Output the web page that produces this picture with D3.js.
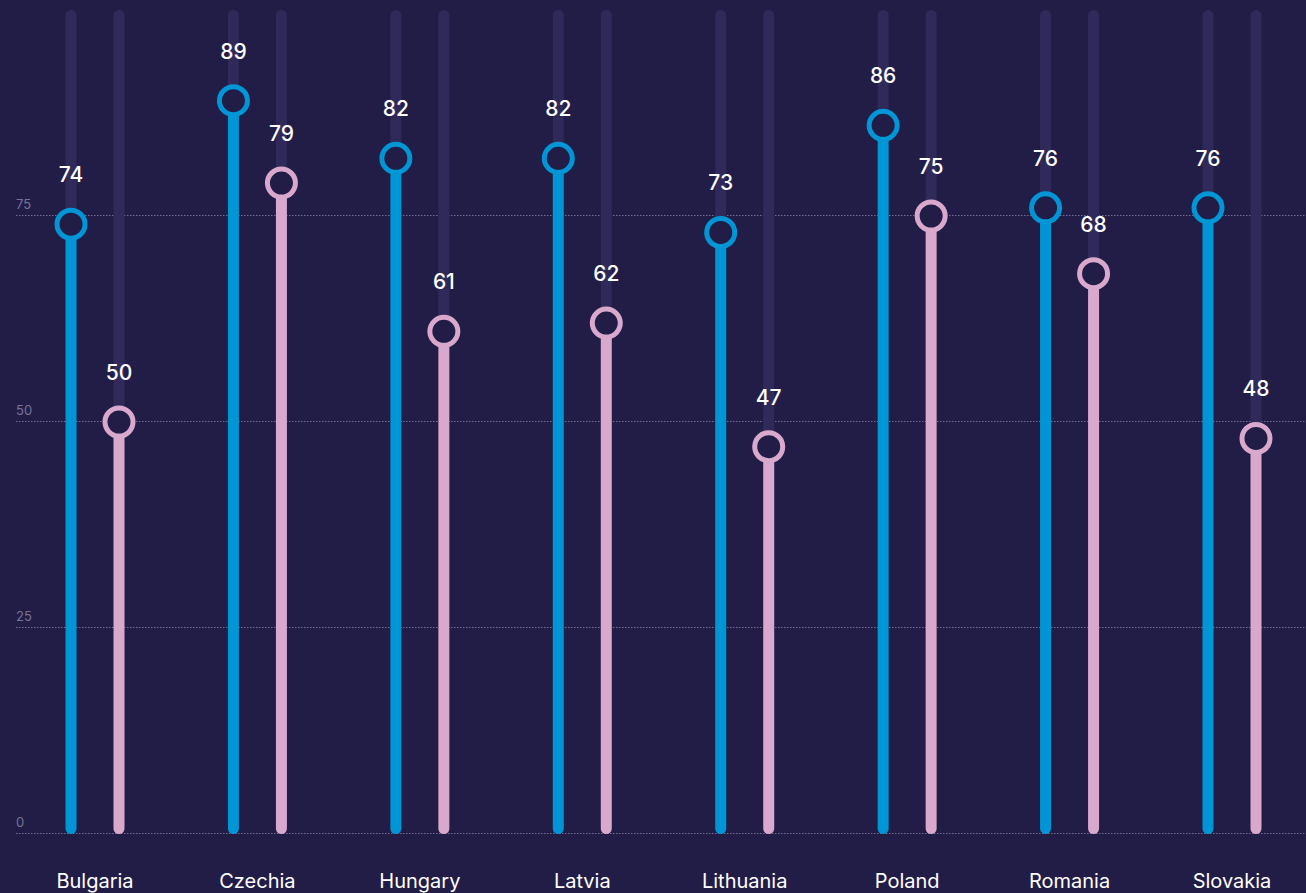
<!DOCTYPE html>
<html>
<head>
<meta charset="utf-8">
<script src="https://cdn.jsdelivr.net/npm/d3@7"></script>
<style>
  html, body { margin: 0; padding: 0; background: #221d46; }
  svg { display: block; font-family: Inter, "Noto Sans", sans-serif; }
</style>
</head>
<body>
<svg id="chart" width="1306" height="893"></svg>
<script>
const countries = ["Bulgaria", "Czechia", "Hungary", "Latvia", "Lithuania", "Poland", "Romania", "Slovakia"];
const seriesA = [74, 89, 82, 82, 73, 86, 76, 76];
const seriesB = [50, 79, 61, 62, 47, 75, 68, 48];
const yTicks = [0, 25, 50, 75];

const colors = { bg: "#221d46", track: "#302a5a", a: "#0096d6", b: "#d8a8cd", grid: "#8d89ab", tick: "#77739a" };

const svg = d3.select("#chart");
const W = 1306, H = 893;

svg.append("rect").attr("width", W).attr("height", H).attr("fill", colors.bg);

const y = d3.scaleLinear().domain([0, 100]).range([834, 10]);
const x = d3.scalePoint().domain(countries).range([95, 1232]);
const off = 24;
const barW = 11;

// gridlines with tick labels
const grid = svg.append("g");
yTicks.forEach(t => {
  grid.append("line")
    .attr("x1", 16).attr("x2", W)
    .attr("y1", y(t) - 0.5).attr("y2", y(t) - 0.5)
    .attr("stroke", colors.grid).attr("stroke-width", 1)
    .attr("stroke-dasharray", "1.5,1.5").attr("opacity", 0.75);
  grid.append("text")
    .attr("x", 16).attr("y", y(t) - 7)
    .attr("fill", colors.tick).attr("font-size", 13)
    .text(t);
});

const pairs = countries.map((c, i) => ({ c, a: seriesA[i], b: seriesB[i] }));

function drawSeries(key, dx, color) {
  const g = svg.append("g");
  // background track
  g.selectAll("line.track").data(pairs).join("line")
    .attr("class", "track")
    .attr("x1", d => x(d.c) + dx).attr("x2", d => x(d.c) + dx)
    .attr("y1", y(100) + barW / 2).attr("y2", d => y(d[key]))
    .attr("stroke", colors.track).attr("stroke-width", barW).attr("stroke-linecap", "round");
  // value stem
  g.selectAll("line.stem").data(pairs).join("line")
    .attr("class", "stem")
    .attr("x1", d => x(d.c) + dx).attr("x2", d => x(d.c) + dx)
    .attr("y1", d => y(d[key])).attr("y2", y(0) - barW / 2)
    .attr("stroke", color).attr("stroke-width", barW).attr("stroke-linecap", "round");
  // head
  g.selectAll("circle").data(pairs).join("circle")
    .attr("cx", d => x(d.c) + dx).attr("cy", d => y(d[key]))
    .attr("r", 14).attr("fill", colors.bg)
    .attr("stroke", color).attr("stroke-width", 5);
  // value label
  g.selectAll("text").data(pairs).join("text")
    .attr("x", d => x(d.c) + dx).attr("y", d => y(d[key]) - 42)
    .attr("text-anchor", "middle").attr("fill", "#ffffff")
    .attr("font-size", 21).attr("font-weight", 500)
    .text(d => d[key]);
}

drawSeries("a", -off, colors.a);
drawSeries("b", off, colors.b);

// category labels
svg.append("g").selectAll("text").data(countries).join("text")
  .attr("x", d => x(d)).attr("y", 888)
  .attr("text-anchor", "middle").attr("fill", "#ffffff")
  .attr("font-size", 20)
  .text(d => d);
</script>
</body>
</html>
